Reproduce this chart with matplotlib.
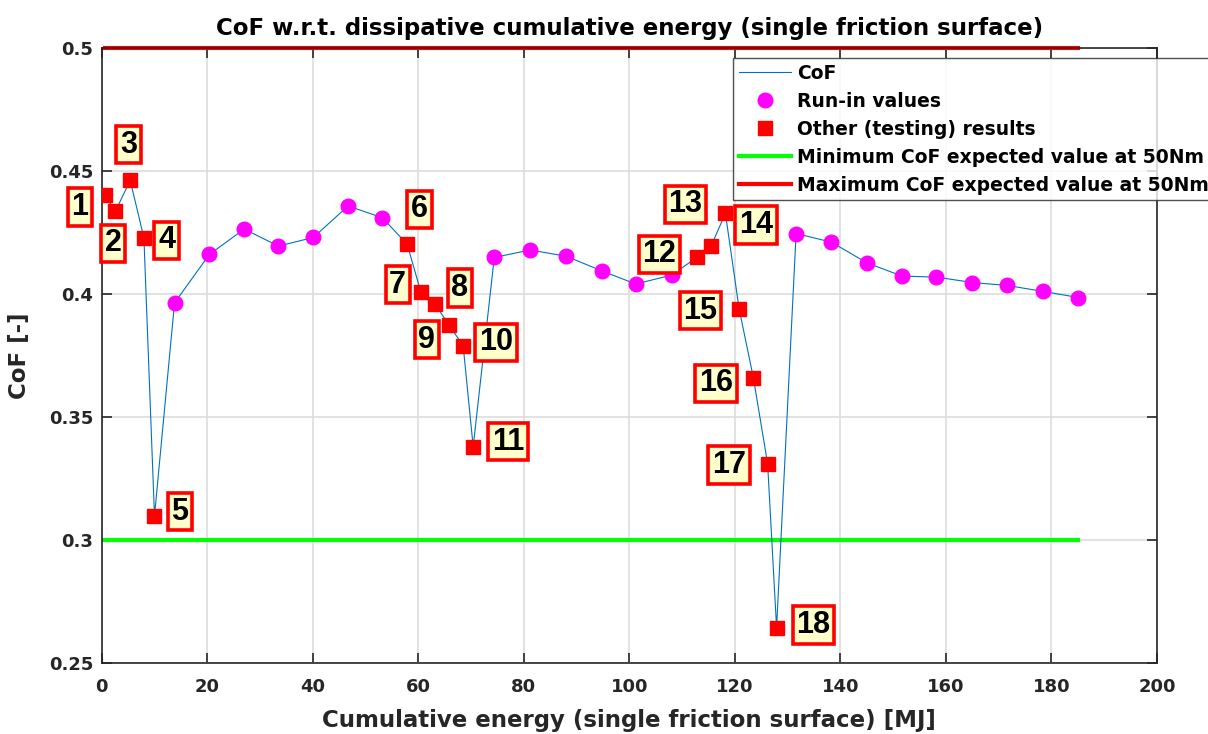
import numpy as np
import matplotlib
matplotlib.use("Agg")
import matplotlib.pyplot as plt
from matplotlib.ticker import FormatStrFormatter

plt.rcParams['font.family'] = ['DejaVu Sans']
plt.rcParams['font.weight'] = 'bold'

# cumulative energy [MJ] and CoF, in test order
energy = [0.6, 2.6, 5.4, 8.0, 10.0, 13.8, 20.4, 27.0, 33.5, 40.1, 46.7, 53.2,
          57.9, 60.5, 63.2, 65.8, 68.5, 70.4, 74.4, 81.2, 88.0, 94.8, 101.2, 108.0,
          112.8, 115.5, 118.2, 120.8, 123.5, 126.2, 127.9,
          131.6, 138.3, 145.0, 151.7, 158.2, 165.0, 171.6, 178.4, 185.1]
cof = [0.440, 0.4336, 0.4461, 0.4227, 0.3097, 0.3963, 0.416, 0.4263, 0.4194, 0.4229, 0.4357, 0.4309,
       0.4201, 0.4006, 0.3957, 0.3874, 0.3789, 0.3379, 0.4148, 0.4178, 0.4153, 0.4093, 0.4040, 0.4076,
       0.4148, 0.4195, 0.4327, 0.3939, 0.3659, 0.3310, 0.2643,
       0.4245, 0.4210, 0.4126, 0.4072, 0.4068, 0.4046, 0.4034, 0.4010, 0.3985]
# True = run-in value, False = other (testing) result
run_in = [False, False, False, False, False, True, True, True, True, True, True, True,
          False, False, False, False, False, False, True, True, True, True, True, True,
          False, False, False, False, False, False, False,
          True, True, True, True, True, True, True, True, True]

cof_min = 0.3
cof_max = 0.5

# numbered labels for the testing results and where they sit
label_text = [str(i) for i in range(1, 19)]
label_x = [-4.1, 2.2, 5.1, 12.3, 14.8, 60.2, 56.1, 67.9, 61.6, 74.7, 77.0,
           105.7, 110.6, 124.0, 113.5, 116.4, 118.9, 134.9]
label_y = [0.4353, 0.4205, 0.4606, 0.4218, 0.3115, 0.4344, 0.4037, 0.4024, 0.3814, 0.3803, 0.340,
           0.416, 0.4364, 0.428, 0.3931, 0.3636, 0.3305, 0.2654]

energy = np.array(energy)
cof = np.array(cof)
run_in = np.array(run_in)

fig = plt.figure(figsize=(12.08, 7.34), dpi=100)
ax = fig.add_axes([0.0842, 0.0967, 0.8736, 0.8383])

ax.plot(energy, cof, color='#0072BD', lw=0.8, label='CoF', zorder=3)
ax.plot(energy[run_in], cof[run_in], 'o', color='#FF00FF', ms=10.5, lw=0,
        label='Run-in values', zorder=4)
ax.plot(energy[~run_in], cof[~run_in], 's', color='#FF0000', ms=9.5, lw=0,
        label='Other (testing) results', zorder=4)
ax.plot([energy[0], energy[-1]], [cof_min, cof_min], color='#00FF00', lw=3,
        label='Minimum CoF expected value at 50Nm', zorder=2)
ax.plot([energy[0], energy[-1]], [cof_max, cof_max], color='#FF0000', lw=3,
        label='Maximum CoF expected value at 50Nm', zorder=2, clip_on=False)

for t, lx, ly in zip(label_text, label_x, label_y):
    ax.text(lx, ly, t, fontsize=22, fontweight='bold', ha='center', va='center',
            family=['Liberation Sans', 'DejaVu Sans'], zorder=6, clip_on=False,
            bbox=dict(boxstyle='square,pad=0.12', facecolor='#FFFFCC',
                      edgecolor='#FF0000', linewidth=2.6))

ax.set_xlim(0, 200)
ax.set_ylim(0.25, 0.5)
ax.set_xticks(np.arange(0, 201, 20))
ax.set_yticks([0.25, 0.3, 0.35, 0.4, 0.45, 0.5])
ax.yaxis.set_major_formatter(FormatStrFormatter('%g'))
ax.grid(True, color='#DDDDDD', lw=1.2)
ax.set_axisbelow(True)
ax.tick_params(direction='in', length=7.5, width=1.2, top=True, right=True,
               labelsize=13, colors='#262626')
ax.tick_params(axis='x', pad=11)
ax.tick_params(axis='y', pad=6)
for s in ax.spines.values():
    s.set_color('#262626')
    s.set_linewidth(1.2)

ax.set_title('CoF w.r.t. dissipative cumulative energy (single friction surface)',
             fontsize=16.5, fontweight='bold', pad=9)
ax.set_xlabel('Cumulative energy (single friction surface) [MJ]', fontsize=16.5,
              fontweight='bold', color='#262626', labelpad=9)
ax.set_ylabel('CoF [-]', fontsize=16.5, fontweight='bold', color='#262626', labelpad=13)

leg = fig.legend(loc='upper left', bbox_to_anchor=(0.6068, 0.921), fontsize=13.5,
                 frameon=True, fancybox=False, handlelength=2.8, handletextpad=0.3,
                 borderpad=0.3, labelspacing=0.48, borderaxespad=0)
leg.get_frame().set_edgecolor('#262626')
leg.get_frame().set_linewidth(1.0)
leg.set_zorder(10)

fig.savefig('out.png', dpi=100)
